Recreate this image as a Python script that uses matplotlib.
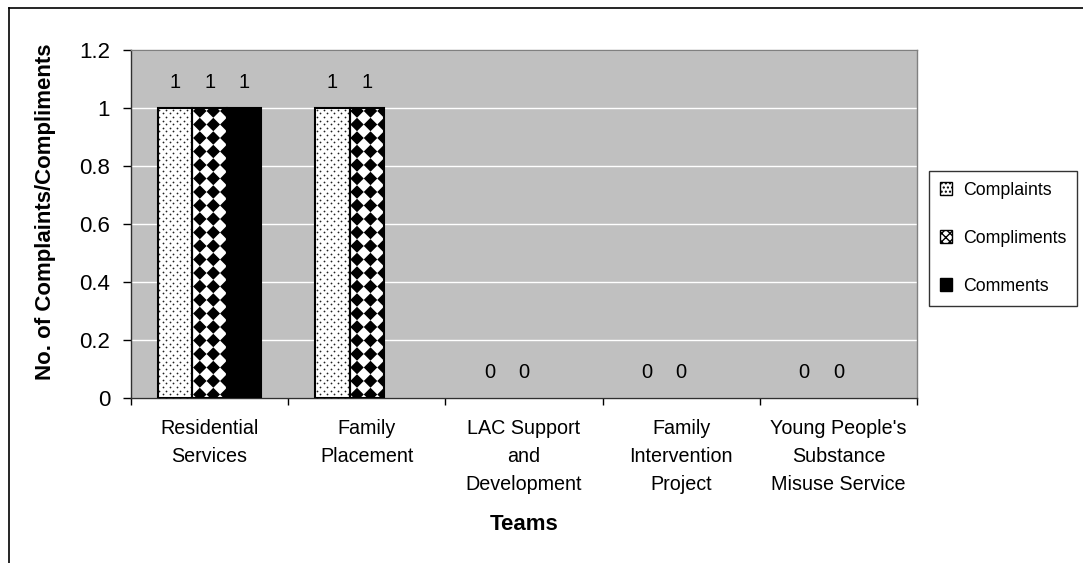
import matplotlib

matplotlib.use("Agg")

import matplotlib.pyplot as plt
import numpy as np
from matplotlib.collections import PolyCollection
from matplotlib.lines import Line2D
from matplotlib.patches import Patch
from matplotlib.ticker import FormatStrFormatter, FixedLocator

plt.rcParams["font.family"] = ["Liberation Sans", "DejaVu Sans"]

teams = [
    "Residential\nServices",
    "Family\nPlacement",
    "LAC Support\nand\nDevelopment",
    "Family\nIntervention\nProject",
    "Young People's\nSubstance\nMisuse Service",
]
complaints = [1, 1, 0, 0, 0]
compliments = [1, 1, 0, 0, 0]
comments = [1, np.nan, np.nan, np.nan, np.nan]

W, H, DPI = 1083, 563, 100
PLOT_BG = "#C0C0C0"

fig = plt.figure(figsize=(W / DPI, H / DPI), dpi=DPI)
fig.patch.set_facecolor("white")
ax = fig.add_axes([131 / W, 1 - 398 / H, 786 / W, 348 / H])
ax.set_facecolor(PLOT_BG)

x = np.arange(len(teams))
bw = 0.22
offsets = [-bw, 0.0, bw]

# pixel size of one data unit, used for the fill patterns
px_x = 786 / 5
px_y = 348 / 1.2


def dot_fill(bar, step=7.0, row=3.6):
    x0, y0 = bar.get_x(), bar.get_y()
    w, h = bar.get_width(), bar.get_height()
    if h <= 0:
        return
    dx, dy = step / px_x, row / px_y
    pts = []
    for i, yy in enumerate(np.arange(y0 + h - dy / 2, y0, -dy)):
        shift = (dx / 2) * (i % 2)
        for xx in np.arange(x0 + dx / 4 + shift, x0 + w, dx):
            pts.append((xx, yy))
    pts = np.array(pts)
    sc = ax.scatter(pts[:, 0], pts[:, 1], s=1.6, c="#202020", marker="o",
                    linewidths=0, zorder=3)
    sc.set_clip_path(bar)


def diamond_fill(bar, step=13.5):
    x0, y0 = bar.get_x(), bar.get_y()
    w, h = bar.get_width(), bar.get_height()
    if h <= 0:
        return
    dx, dy = step / px_x, step / px_y
    polys = []
    for yy in np.arange(y0 + h - 3 / px_y, y0 - dy, -dy):
        for xx in np.arange(x0 + 7.5 / px_x, x0 + w + dx, dx):
            polys.append([(xx - dx / 2, yy), (xx, yy + dy / 2),
                          (xx + dx / 2, yy), (xx, yy - dy / 2)])
    pc = PolyCollection(polys, facecolors="black", edgecolors="none", zorder=3)
    ax.add_collection(pc)
    pc.set_clip_path(bar)


bars_a = ax.bar(x + offsets[0], complaints, bw, color="white",
                edgecolor="none", linewidth=0, zorder=2)
bars_b = ax.bar(x + offsets[1], compliments, bw, color="white",
                edgecolor="none", linewidth=0, zorder=2)
bars_c = ax.bar(x + offsets[2], comments, bw, color="black",
                edgecolor="none", linewidth=0, zorder=2)

for b in bars_a:
    dot_fill(b)
for b in bars_b:
    diamond_fill(b)

# bar outlines above the fill, only for non-zero bars
for group in (bars_a, bars_b, bars_c):
    for b in group:
        if np.isnan(b.get_height()) or b.get_height() <= 0:
            continue
        ax.add_patch(plt.Rectangle((b.get_x(), b.get_y()), b.get_width(),
                                   b.get_height(), fill=False,
                                   edgecolor="black", linewidth=1.5, zorder=4))

# value labels
for series, off in zip((complaints, compliments, comments), offsets):
    for xi, v in zip(x, series):
        if np.isnan(v):
            continue
        ax.annotate(f"{v:g}", (xi + off, v), xytext=(0, 26),
                    textcoords="offset pixels", ha="center", va="center",
                    fontsize=14.5, color="black", zorder=5)

ax.set_xlim(-0.5, len(teams) - 0.5)
ax.set_ylim(0, 1.2)
ax.set_yticks(np.arange(0, 1.21, 0.2))
ax.yaxis.set_major_formatter(FormatStrFormatter("%g"))
ax.grid(axis="y", color="white", linewidth=1.0, zorder=1)
ax.set_axisbelow(True)

ax.xaxis.set_major_locator(FixedLocator(np.arange(-0.5, len(teams), 1.0)))
ax.xaxis.set_minor_locator(FixedLocator(x))
ax.set_xticklabels([""] * (len(teams) + 1))
ax.set_xticklabels(teams, minor=True)
ax.tick_params(axis="x", which="major", length=5, width=1, color="black",
               direction="out")
ax.tick_params(axis="x", which="minor", length=0, pad=15, labelsize=14.2)
ax.tick_params(axis="y", length=6, width=1, color="black", pad=9,
               labelsize=16)
for lbl in ax.get_xticklabels(minor=True):
    lbl.set_linespacing(1.62)
    lbl.set_va("top")

for side in ("top", "right"):
    ax.spines[side].set_color("#808080")
    ax.spines[side].set_linewidth(1.0)
for side in ("left", "bottom"):
    ax.spines[side].set_color("#303030")
    ax.spines[side].set_linewidth(1.0)

fig.text(524 / W, 1 - 525 / H, "Teams", ha="center", va="center",
         fontsize=16, fontweight="bold")
fig.text(46 / W, 1 - 212 / H, "No. of Complaints/Compliments", ha="center",
         va="center", rotation=90, fontsize=16, fontweight="bold")

handles = [
    Patch(facecolor="white", edgecolor="black", hatch="....", linewidth=1),
    Patch(facecolor="white", edgecolor="black", hatch="xxxx", linewidth=1),
    Patch(facecolor="black", edgecolor="black", linewidth=1),
]
leg = fig.legend(handles, ["Complaints", "Compliments", "Comments"],
                 loc="upper left", bbox_to_anchor=(929 / W, 1 - 171 / H),
                 bbox_transform=fig.transFigure, borderaxespad=0,
                 fontsize=12.8, frameon=True, fancybox=False,
                 handlelength=0.7, handleheight=0.7, handletextpad=0.6,
                 labelspacing=1.75, borderpad=0.6)
leg.get_frame().set_edgecolor("black")
leg.get_frame().set_linewidth(1.0)

# chart-area border (top and left edges)
fig.add_artist(Line2D([9 / W, 1.0], [1 - 8 / H, 1 - 8 / H],
                      transform=fig.transFigure, color="black", linewidth=1.2))
fig.add_artist(Line2D([9 / W, 9 / W], [1 - 8 / H, 0.0],
                      transform=fig.transFigure, color="black", linewidth=1.2))

fig.savefig("out.png", dpi=DPI, facecolor=fig.get_facecolor())
